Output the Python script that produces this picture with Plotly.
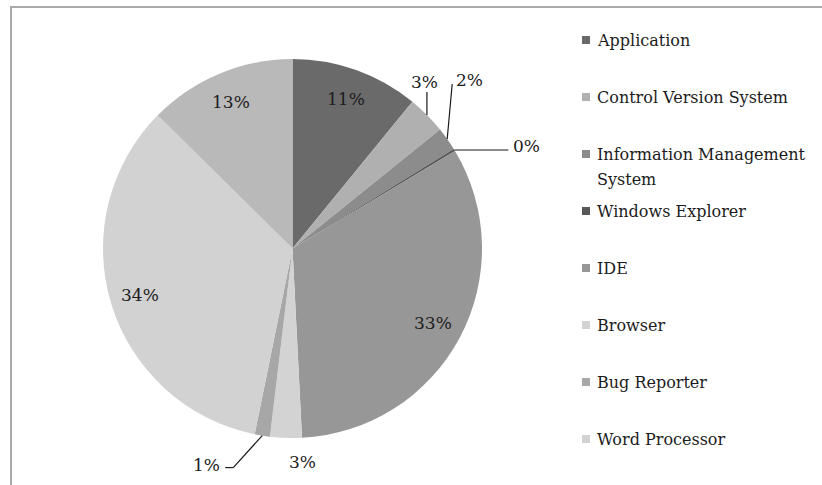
import math
import plotly.graph_objects as go

# Share of time spent per tool (percent of total), clockwise from 12 o'clock
categories = [
    "Application",
    "Control Version System",
    "Information Management System",
    "Windows Explorer",
    "IDE",
    "Browser",
    "Bug Reporter",
    "Word Processor",
    "Other",
]
shares = [10.9, 3.3, 2.0, 0.2, 32.8, 2.7, 1.3, 34.2, 12.6]
slice_colors = ["#6a6a6a", "#b0b0b0", "#8c8c8c", "#585858", "#979797",
                "#d3d3d3", "#a7a7a7", "#d2d2d2", "#b9b9b9"]

# Legend rows (the last category is not listed)
legend_rows = [
    ["Application"],
    ["Control Version System"],
    ["Information Management", "System"],
    ["Windows Explorer"],
    ["IDE"],
    ["Browser"],
    ["Bug Reporter"],
    ["Word Processor"],
]

W, H = 822, 485
CX, CY, R = 292.5, 248.5, 189.5
FONT = "DejaVu Serif"
FS_LEGEND = 16
FS_PCT = 17
TXT = "#1c1c1c"

total = sum(shares)
pct_text = [f"{v / total * 100:.0f}%" for v in shares]

# mid angle of every slice, clockwise from the top, in radians
mids = []
acc = 0.0
for v in shares:
    mids.append((acc + v / 2) / total * 2 * math.pi)
    acc += v


def polar(theta, r):
    return CX + r * math.sin(theta), CY - r * math.cos(theta)


fig = go.Figure()

fig.add_trace(go.Pie(
    labels=categories,
    values=shares,
    sort=False,
    direction="clockwise",
    rotation=0,
    marker=dict(colors=slice_colors, line=dict(width=0)),
    textinfo="none",
    hoverinfo="label+percent",
    showlegend=False,
    domain=dict(x=[(CX - R) / W, (CX + R) / W],
                y=[(H - CY - R) / H, (H - CY + R) / H]),
))

annotations = []
shapes = []
pct_font = dict(family=FONT, size=FS_PCT, color=TXT)

# labels drawn on the slice
inside = [0, 4, 7, 8]
for i in inside:
    x, y = polar(mids[i], 0.84 * R)
    annotations.append(dict(x=x, y=y, text=pct_text[i], showarrow=False,
                            xanchor="center", yanchor="middle", font=pct_font))

# labels outside the pie, with their leader lines (offsets from slice edge)
outside = {
    1: dict(path=[(0, -23)], text=(-2, -33), anchor="center"),
    2: dict(path=[(5, -55)], text=(7, -59), anchor="left"),
    3: dict(path=[(54, 0)], text=(57, -4), anchor="left"),
    5: dict(path=[], text=(17, 24), anchor="center"),
    6: dict(path=[(-29, 32), (-37, 32)], text=(-40, 29), anchor="right"),
}
for i, spec in outside.items():
    ax, ay = polar(mids[i], R)
    pts = [(ax, ay)] + [(ax + dx, ay + dy) for dx, dy in spec["path"]]
    for (x0, y0), (x1, y1) in zip(pts[:-1], pts[1:]):
        shapes.append(dict(type="line", xref="x", yref="y",
                           x0=x0, y0=y0, x1=x1, y1=y1,
                           line=dict(color="#1a1a1a", width=1.2)))
    tx, ty = spec["text"]
    annotations.append(dict(x=ax + tx, y=ay + ty, text=pct_text[i],
                            showarrow=False, xanchor=spec["anchor"],
                            yanchor="middle", font=pct_font))

# legend: square swatches plus text
LEG_X, LEG_Y0, LEG_STEP, LINE_GAP = 586, 40, 57, 25
row_y = [LEG_Y0 + k * LEG_STEP for k in range(len(legend_rows))]
fig.add_trace(go.Scatter(
    x=[LEG_X] * len(legend_rows), y=row_y, mode="markers",
    marker=dict(symbol="square", size=8, color=slice_colors[:len(legend_rows)]),
    hoverinfo="skip", showlegend=False,
))
for k, lines in enumerate(legend_rows):
    for j, line in enumerate(lines):
        annotations.append(dict(x=LEG_X + 9, y=row_y[k] + j * LINE_GAP,
                                text=line, showarrow=False,
                                xanchor="left", yanchor="middle",
                                font=dict(family=FONT, size=FS_LEGEND, color=TXT)))

# chart frame (left and top edges)
shapes.append(dict(type="path", xref="x", yref="y",
                   path=f"M 11 {H} L 11 7 L {W} 7",
                   line=dict(color="#a9a9a9", width=2)))

fig.update_layout(
    width=W, height=H,
    margin=dict(l=0, r=0, t=0, b=0),
    paper_bgcolor="white", plot_bgcolor="rgba(0,0,0,0)",
    font=dict(family=FONT, size=FS_LEGEND, color=TXT),
    xaxis=dict(range=[0, W], visible=False, fixedrange=True),
    yaxis=dict(range=[H, 0], visible=False, fixedrange=True),
    annotations=annotations,
    shapes=shapes,
    showlegend=False,
)

fig.write_html("out.html")
